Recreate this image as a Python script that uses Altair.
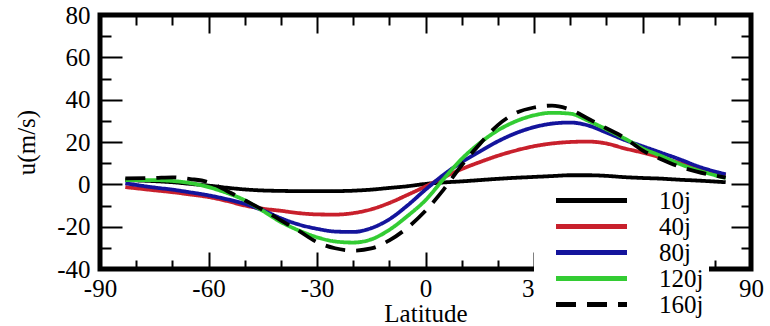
import altair as alt
import pandas as pd

# ---------------- data ----------------
lat = [-83, -75, -70, -65, -60, -55, -50, -45, -40, -35, -30, -25, -20, -15, -10, -5,
       0, 5, 10, 15, 20, 25, 30, 35, 40, 45, 50, 55, 60, 65, 70, 75, 83]

u_10j = [2.0, 1.5, 1.0, 0.2, -0.6, -1.6, -2.4, -2.9, -3.1, -3.2, -3.2, -3.2, -3.0, -2.5, -1.7, -0.9,
         0.2, 0.9, 1.4, 2.0, 2.6, 3.1, 3.5, 3.9, 4.3, 4.3, 4.0, 3.4, 3.0, 2.7, 2.2, 1.8, 1.0]
u_40j = [-1.3, -2.8, -3.7, -4.8, -6.0, -7.8, -10.0, -11.5, -12.5, -13.6, -14.2, -14.3, -13.6, -11.8, -8.8, -5.0,
         -1.0, 3.3, 7.2, 10.5, 13.5, 16.0, 18.0, 19.3, 20.0, 20.2, 19.3, 17.0, 15.0, 12.7, 10.2, 7.7, 4.3]
u_80j = [0.5, -1.5, -2.5, -3.8, -5.2, -7.0, -9.2, -12.3, -16.0, -19.0, -21.0, -22.3, -22.5, -20.7, -16.5, -10.0,
         -2.5, 4.5, 10.5, 15.5, 20.3, 24.2, 27.0, 28.7, 29.2, 27.8, 24.5, 21.0, 18.0, 15.0, 12.0, 8.7, 4.7]
u_120j = [2.0, 2.0, 1.6, 0.6, -1.3, -4.0, -7.5, -12.5, -17.8, -21.8, -25.0, -27.0, -27.5, -26.0, -21.5, -15.0,
          -7.5, 2.5, 12.0, 19.5, 25.5, 29.8, 32.6, 33.8, 33.4, 30.0, 26.0, 21.7, 17.0, 13.5, 9.8, 6.8, 3.0]
u_160j = [2.8, 3.0, 3.3, 2.5, 1.0, -3.0, -7.5, -12.0, -17.0, -22.0, -27.3, -30.2, -31.3, -30.3, -26.5, -20.5,
          -12.5, -2.5, 9.0, 19.0, 28.0, 33.7, 36.3, 37.2, 35.3, 31.0, 26.5, 22.0, 16.0, 12.0, 8.5, 6.0, 3.2]

series_names = ["10j", "40j", "80j", "120j", "160j"]
series_values = [u_10j, u_40j, u_80j, u_120j, u_160j]
series_colors = ["#000000", "#c8202c", "#14149c", "#33cc33", "#000000"]
series_dash = [[1, 0], [1, 0], [1, 0], [1, 0], [20, 11]]

x_major = [-90, -60, -30, 0, 30, 60, 90]
x_minor = [-80, -70, -50, -40, -20, -10, 10, 20, 40, 50, 70, 80]
y_major = [-40, -20, 0, 20, 40, 60, 80]
y_minor = [-30, -10, 10, 30, 50, 70]

rows = []
for name, vals in zip(series_names, series_values):
    for la, v in zip(lat, vals):
        rows.append({"lat": la, "u": v, "series": name})
df = pd.DataFrame(rows)

FONT = "Liberation Serif"
xscale = alt.Scale(domain=[-90, 90], nice=False, zero=False)
yscale = alt.Scale(domain=[-40, 80], nice=False, zero=False)


def make_axis(orient, values, size, labels=False, title=None, **extra):
    kw = dict(orient=orient, values=values, tickSize=size, offset=-size, domain=False,
              grid=False, labels=labels, ticks=True, tickColor="black", tickWidth=2,
              labelFlush=False, labelOverlap=False)
    if labels:
        kw.update(labelFont=FONT, labelFontSize=25, labelColor="black",
                  labelExpr="'' + datum.value")
    if title is not None:
        kw.update(title=title, titleFont=FONT, titleFontSize=25, titleFontWeight="normal",
                  titleColor="black")
    else:
        kw.update(title="")
    kw.update(extra)
    return alt.Axis(**kw)


legend = alt.Legend(
    title=None, orient="none", legendX=434, legendY=168,
    fillColor="white", padding=5,
    symbolType="M-4,0H4", symbolSize=315, symbolStrokeWidth=5,
    symbolOffset=40, labelOffset=55,
    labelFont=FONT, labelFontSize=25, labelColor="black", labelLimit=300,
    labelExpr="datum.label + '    '",
    rowPadding=-2.5,
)

lines = alt.Chart(df).mark_line(strokeWidth=3.8, interpolate="monotone").encode(
    x=alt.X("lat:Q", scale=xscale,
            axis=make_axis("bottom", x_major, 17, labels=True, title="Latitude",
                           labelPadding=7, titlePadding=0)),
    y=alt.Y("u:Q", scale=yscale,
            axis=make_axis("left", y_major, 22, labels=True, title="u(m/s)",
                           labelPadding=10, titlePadding=17)),
    color=alt.Color("series:N", scale=alt.Scale(domain=series_names, range=series_colors),
                    legend=legend),
    strokeDash=alt.StrokeDash("series:N", scale=alt.Scale(domain=series_names, range=series_dash),
                              legend=legend),
)


def tick_layer(xax, yax):
    return alt.Chart(df).mark_line(opacity=0).encode(
        x=alt.X("lat:Q", scale=xscale, axis=xax),
        y=alt.Y("u:Q", scale=yscale, axis=yax),
        detail="series:N",
    )


l2 = tick_layer(make_axis("bottom", x_minor, 9), make_axis("left", y_minor, 11))
l3 = tick_layer(make_axis("top", x_major, 18), make_axis("right", y_major, 20))
l4 = tick_layer(make_axis("top", x_minor, 10), make_axis("right", y_minor, 10))

chart = alt.layer(lines, l2, l3, l4).resolve_axis(
    x="independent", y="independent"
).properties(
    width=651, height=254,
    autosize=alt.AutoSizeParams(type="none"),
    padding={"left": 100, "top": 15, "right": 19, "bottom": 57},
    background="white",
).configure_view(
    stroke="black", strokeWidth=5
)

chart.save("out.html", embed_options={"renderer": "svg", "actions": False})
